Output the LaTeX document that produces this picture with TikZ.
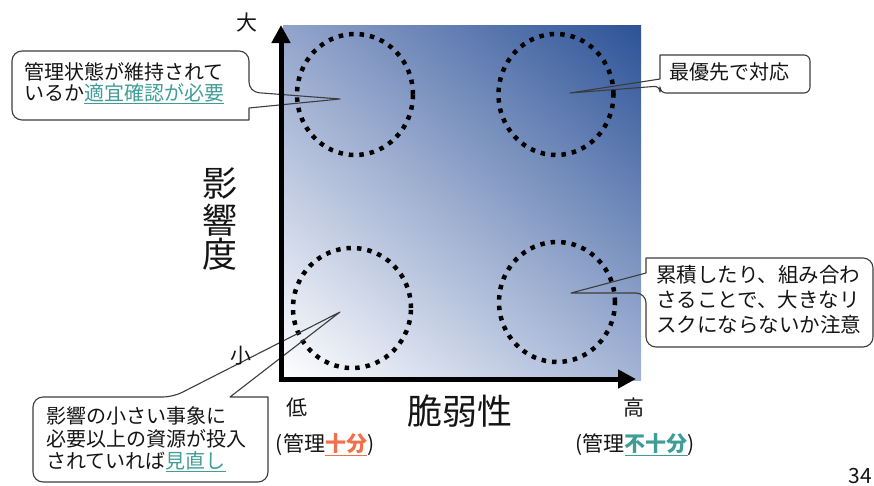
\documentclass[tikz,border=0pt]{standalone}
\usepackage{fontspec}
\setmainfont{Noto Sans CJK JP}
\usetikzlibrary{arrows.meta,shadings}
\definecolor{gdark}{RGB}{44,82,150}
\definecolor{gmidA}{RGB}{146,164,203}
\definecolor{gmidB}{RGB}{164,180,214}
\definecolor{tealc}{RGB}{64,156,150}
\definecolor{orangec}{RGB}{240,112,76}
\definecolor{txtc}{RGB}{20,20,20}
\definecolor{lnc}{RGB}{60,60,60}
\begin{document}
\begin{tikzpicture}[x=1pt,y=-1pt,
  circ/.style={line width=4.5pt, dash pattern=on 4.5pt off 6pt},
  callout/.style={draw=lnc, line width=1.1pt, line join=round},
  axisline/.style={line width=5pt, line join=miter,
    {Triangle[length=18pt,width=18pt]}-{Triangle[length=18pt,width=18pt]}},
  body/.style={inner sep=0pt, text=txtc, anchor=base west, font=\fontsize{20}{24}\selectfont},
  lab/.style={inner sep=0pt, text=txtc, anchor=base, font=\fontsize{21}{24}\selectfont},
  big/.style={inner sep=0pt, text=txtc, anchor=base, font=\fontsize{35}{36}\selectfont}]
\useasboundingbox (0,0) rectangle (874,485);

% gradient field
\shade[lower left=white, upper right=gdark, upper left=gmidA, lower right=gmidB]
  (283,25) rectangle (641,380);

% dotted circles
\draw[circ] (355,94.5) ellipse [x radius=58pt, y radius=60.5pt];
\draw[circ] (556,94.5) ellipse [x radius=57.5pt, y radius=60.5pt];
\draw[circ] (352,308) ellipse [x radius=59pt, y radius=60pt];
\draw[circ] (557,302) ellipse [x radius=58pt, y radius=60pt];

% callout tips
\coordinate (tlTip) at (340,99);
\coordinate (trTip) at (570,93);
\coordinate (rTip) at (571,293);
\coordinate (blTip) at (340,312);

% callouts
\draw[callout] (130,51) [rounded corners=10pt] -- (249,51) -- (249,92)
  [sharp corners] -- (tlTip) -- (249,108) -- (249,120)
  [rounded corners=10pt] -- (12,120) -- (12,51) -- cycle;
\draw[callout] (735,55) [rounded corners=6pt] -- (810,55) -- (810,93) -- (660,93) -- (660,86)
  [sharp corners] -- (trTip) -- (660,79) -- (660,55)
  [rounded corners=6pt] -- cycle;
\draw[callout] (760,258) [rounded corners=10pt] -- (873,258) -- (873,347) -- (646,347) -- (646,293)
  [sharp corners] -- (rTip) -- (646,273) -- (646,258)
  [rounded corners=10pt] -- cycle;
\draw[callout] (33,440) [rounded corners=10pt] -- (33,397) -- (173,397)
  [sharp corners] -- (blTip) -- (230,397) -- (268,397)
  [rounded corners=10pt] -- (268,482) -- (33,482) -- cycle;

% axes
\coordinate (O) at (281,379);
\coordinate (Ytop) at (281,25);
\coordinate (Xend) at (636,379);
\draw[axisline] (Ytop) -- (O) -- (Xend);

% callout texts
\node[body] (tl1) at (24,79) {管理状態が維持されて};
\node[body] (tl2) at (24,100.5) {いるか\textcolor{tealc}{\underline{適宜確認が必要}}};
\node[body] (tr1) at (669,79) {最優先で対応};
\node[body, font=\fontsize{20.5}{24}\selectfont] (r1) at (656,282) {累積したり、組み合わ};
\node[body, font=\fontsize{20.5}{24}\selectfont] (r2) at (656,307) {さることで、大きなリ};
\node[body, font=\fontsize{20.5}{24}\selectfont] (r3) at (656,332) {スクにならないか注意};
\node[body] (bl1) at (46,423) {影響の小さい事象に};
\node[body] (bl2) at (46,446) {必要以上の資源が投入};
\node[body] (bl3) at (46,468.5) {されていれば\textcolor{tealc}{\underline{見直し}}};

% axis labels
\node[lab] (big) at (247,30.5) {大};
\node[lab] (small) at (241,363.5) {小};
\node[big] (y1) at (220,196.6) {影};
\node[big] (y2) at (220,233.6) {響};
\node[big] (y3) at (220,267.6) {度};
\node[big] (xlab) at (460,424.6) {脆弱性};
\node[lab] (low) at (297,415.5) {低};
\node[lab] (high) at (634,415.5) {高};
\node[lab] (lowm) at (325,451.5) {(管理\textcolor{orangec}{\bfseries\underline{十分}})};
\node[lab] (highm) at (635,451.5) {(管理\textcolor{tealc}{\bfseries\underline{不十分}})};
\node[lab, anchor=base east] (pg) at (872,483) {34};
\end{tikzpicture}
\end{document}
